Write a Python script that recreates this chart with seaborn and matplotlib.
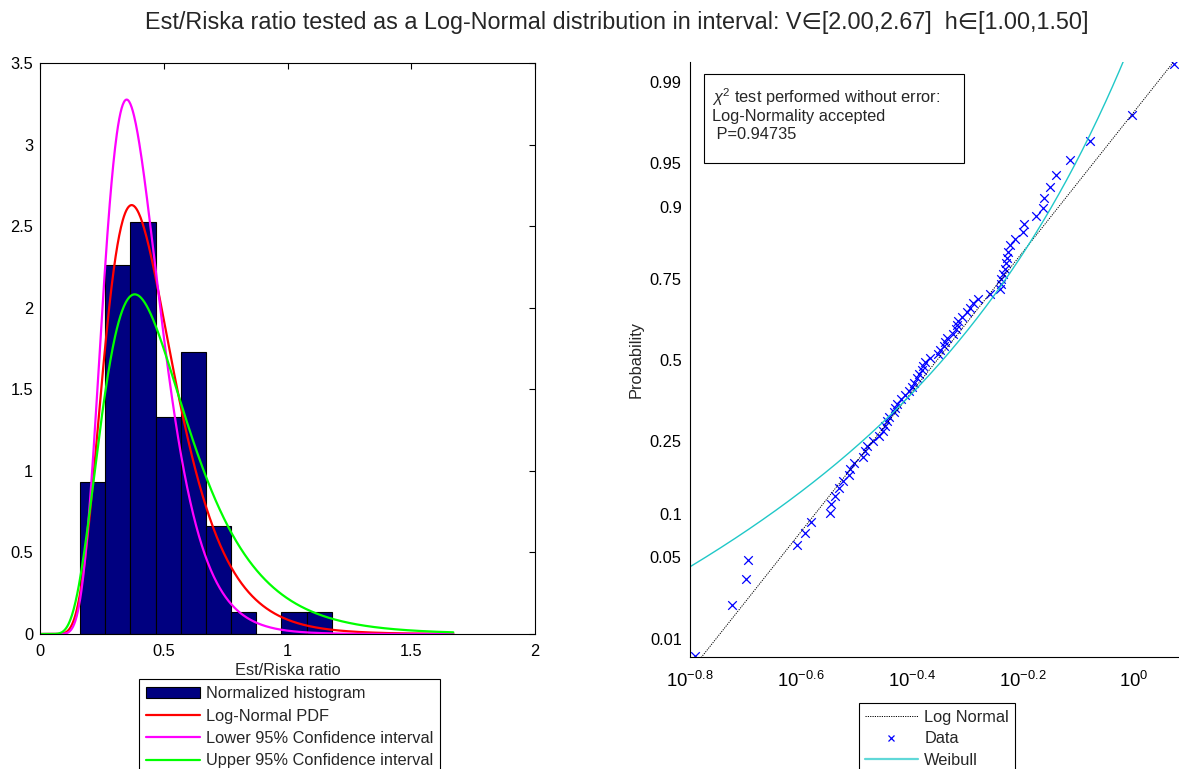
import numpy as np
import matplotlib
matplotlib.use("Agg")
import matplotlib.pyplot as plt
import seaborn as sns
from matplotlib.patches import Patch, Rectangle
from matplotlib.lines import Line2D
from matplotlib.ticker import FixedLocator, FixedFormatter, NullLocator
from statistics import NormalDist

# ---------------- data ----------------
ratio = [0.1620, 0.1887, 0.2000, 0.2016, 0.2471, 0.2554, 0.2618, 0.2834, 0.2845, 0.2893,
         0.2941, 0.2990, 0.3066, 0.3078, 0.3130, 0.3249, 0.3276, 0.3303, 0.3386, 0.3471,
         0.3529, 0.3559, 0.3589, 0.3620, 0.3690, 0.3705, 0.3741, 0.3804, 0.3868, 0.3932,
         0.3981, 0.4014, 0.4064, 0.4098, 0.4150, 0.4168, 0.4202, 0.4290, 0.4435, 0.4473,
         0.4547, 0.4566, 0.4604, 0.4710, 0.4779, 0.4799, 0.4819, 0.4899, 0.5002, 0.5064,
         0.5128, 0.5235, 0.5502, 0.5736, 0.5745, 0.5760, 0.5808, 0.5857, 0.5881, 0.5906,
         0.5930, 0.5980, 0.6105, 0.6300, 0.6320, 0.6650, 0.6855, 0.6883, 0.7059, 0.7238,
         0.7668, 0.8330, 0.9917, 1.1790]
n_bins = 10

# fitted log-normal parameters (mu, sigma of ln x)
fit_mu, fit_sigma = -0.848, 0.381
lower_mu, lower_sigma = -0.941, 0.3295
upper_mu, upper_sigma = -0.756, 0.452
pdf_x_max = 1.67

# fitted Weibull parameters
weib_scale, weib_shape = 0.5187, 2.653
p_value = 0.94735

left_legend_labels = ["Normalized histogram", "Log-Normal PDF",
                      "Lower 95% Confidence interval", "Upper 95% Confidence interval"]
right_legend_labels = ["Log Normal", "Data", "Weibull"]
prob_ticks = [0.01, 0.05, 0.1, 0.25, 0.5, 0.75, 0.9, 0.95, 0.99]
prob_tick_labels = ["0.01", "0.05", "0.1", "0.25", "0.5", "0.75", "0.9", "0.95", "0.99"]
log_ticks = [-0.8, -0.6, -0.4, -0.2, 0.0]

title = "Est/Riska ratio tested as a Log-Normal distribution in interval: V\u2208[2.00,2.67]  h\u2208[1.00,1.50]"

# ---------------- style ----------------
sns.set_theme(style="white")
plt.rcParams["font.family"] = ["Liberation Sans", "DejaVu Sans"]
plt.rcParams["mathtext.fontset"] = "custom"
plt.rcParams["mathtext.rm"] = "Liberation Sans"
plt.rcParams["mathtext.it"] = "Liberation Sans:italic"
plt.rcParams["mathtext.bf"] = "Liberation Sans:bold"
FS = 11.8

W, H = 1179, 769
fig = plt.figure(figsize=(W / 100, H / 100), dpi=100)
fig.patch.set_facecolor("white")


def frac_box(x0, x1, ytop, ybot):
    return [x0 / W, (H - ybot) / H, (x1 - x0) / W, (ybot - ytop) / H]


ax1 = fig.add_axes(frac_box(40, 535, 63, 634))
ax2 = fig.add_axes(frac_box(690, 1178, 62, 657))

data = np.asarray(ratio, float)


def lognorm_pdf(x, mu, s):
    out = np.zeros_like(x)
    m = x > 0
    out[m] = np.exp(-(np.log(x[m]) - mu) ** 2 / (2 * s * s)) / (x[m] * s * np.sqrt(2 * np.pi))
    return out


# ---------------- left: histogram + pdfs ----------------
sns.histplot(x=data, bins=n_bins, binrange=(data.min(), data.max()), stat="density",
             color="#000080", edgecolor="black", linewidth=0.8, alpha=1.0, ax=ax1)

xg = np.linspace(0, pdf_x_max, 700)
curves = [(fit_mu, fit_sigma, "#FF0000"), (lower_mu, lower_sigma, "#FF00FF"),
          (upper_mu, upper_sigma, "#00FF00")]
for mu, s, c in curves:
    sns.lineplot(x=xg, y=lognorm_pdf(xg, mu, s), color=c, linewidth=1.6,
                 estimator=None, sort=False, ax=ax1)

ax1.set_xlim(0, 2)
ax1.set_ylim(0, 3.5)
ax1.xaxis.set_major_locator(FixedLocator([0, 0.5, 1, 1.5, 2]))
ax1.xaxis.set_major_formatter(FixedFormatter(["0", "0.5", "1", "1.5", "2"]))
ax1.yaxis.set_major_locator(FixedLocator([0, 0.5, 1, 1.5, 2, 2.5, 3, 3.5]))
ax1.yaxis.set_major_formatter(FixedFormatter(["0", "0.5", "1", "1.5", "2", "2.5", "3", "3.5"]))
ax1.tick_params(direction="in", length=4, width=0.8, top=True, right=True,
                labelsize=FS, colors="black")
ax1.tick_params(axis="x", pad=7)
ax1.tick_params(axis="y", pad=5)
ax1.set_xlabel("Est/Riska ratio", fontsize=FS, labelpad=3)
ax1.set_ylabel("")
for sp in ax1.spines.values():
    sp.set_visible(True)
    sp.set_color("black")
    sp.set_linewidth(0.8)

h1 = [Patch(facecolor="#000080", edgecolor="black", linewidth=0.8),
      Line2D([], [], color="#FF0000", lw=1.6),
      Line2D([], [], color="#FF00FF", lw=1.6),
      Line2D([], [], color="#00FF00", lw=1.6)]
leg1 = fig.legend(h1, left_legend_labels, loc="upper center",
                  bbox_to_anchor=(289.5 / W, (H - 679) / H), fontsize=FS,
                  frameon=True, fancybox=False, edgecolor="black", framealpha=1,
                  borderpad=0.45, labelspacing=0.45, handlelength=3.3,
                  handletextpad=0.35, borderaxespad=0)
leg1.get_frame().set_linewidth(0.8)

# ---------------- right: log-normal probability plot ----------------
nd = NormalDist()
_ppf_v = np.vectorize(nd.inv_cdf, otypes=[float])
_cdf_v = np.vectorize(nd.cdf, otypes=[float])


def fwd(p):
    p = np.clip(np.asarray(p, float), 1e-12, 1 - 1e-12)
    return _ppf_v(p)


def inv(z):
    return _cdf_v(np.asarray(z, float))


ax2.set_xscale("log")
ax2.set_yscale("function", functions=(fwd, inv))

xs = np.sort(data)
n = len(xs)
pp = (np.arange(1, n + 1) - 0.5) / n

# reference line through the data quartiles (in log space)
lx = np.log10(xs)
q1, q3 = np.quantile(lx, [0.25, 0.75], method="hazen")
zq = nd.inv_cdf(0.75)
line_sigma = (q3 - q1) / (2 * zq)
line_mid = (q1 + q3) / 2
xl = np.logspace(lx.min(), lx.max(), 200)
pl = inv((np.log10(xl) - line_mid) / line_sigma)

xlim = (10 ** -0.8, 10 ** 0.079)
xw = np.logspace(np.log10(xlim[0]), np.log10(xlim[1]), 500)
pw = 1 - np.exp(-(xw / weib_scale) ** weib_shape)

sns.lineplot(x=xl, y=pl, color="black", linewidth=0.7, linestyle=(0, (1.2, 1.2)),
             estimator=None, sort=False, ax=ax2)
sns.scatterplot(x=xs, y=pp, marker="x", color="#0000FF", s=38, linewidth=0.9, ax=ax2)
sns.lineplot(x=xw, y=pw, color="#20C8C8", linewidth=1.0, estimator=None, sort=False, ax=ax2)

ax2.set_xlim(*xlim)
ax2.set_ylim(nd.cdf(-2.48), nd.cdf(2.49))
ax2.xaxis.set_major_locator(FixedLocator([10 ** v for v in log_ticks]))
ax2.xaxis.set_major_formatter(FixedFormatter([r"$10^{%g}$" % v for v in log_ticks]))
ax2.xaxis.set_minor_locator(NullLocator())
ax2.yaxis.set_major_locator(FixedLocator(prob_ticks))
ax2.yaxis.set_major_formatter(FixedFormatter(prob_tick_labels))
ax2.yaxis.set_minor_locator(NullLocator())
ax2.tick_params(axis="x", direction="in", length=4, width=0.8, labelsize=FS + 1.5, pad=10,
                colors="black")
ax2.tick_params(axis="y", direction="out", length=3, width=0.8, labelsize=FS, pad=3,
                colors="black")
ax2.set_xlabel("")
ax2.set_ylabel("Probability", fontsize=FS, labelpad=4)
ax2.spines["top"].set_visible(False)
ax2.spines["right"].set_visible(False)
for k in ("left", "bottom"):
    ax2.spines[k].set_color("black")
    ax2.spines[k].set_linewidth(0.8)

# text box
bx0, bx1 = (704 - 690) / 488, (964 - 690) / 488
by0, by1 = (657 - 162.7) / 595, (657 - 74.3) / 595
ax2.add_patch(Rectangle((bx0, by0), bx1 - bx0, by1 - by0, transform=ax2.transAxes,
                        facecolor="white", edgecolor="black", linewidth=0.8, zorder=5))
tx = (711.7 - 690) / 488
lines = [r"$\chi^2$ test performed without error:", "Log-Normality accepted",
         " P=%.5f" % p_value]
for txt, yb in zip(lines, [103, 121, 139]):
    ax2.text(tx, (657 - yb) / 595, txt, transform=ax2.transAxes, fontsize=FS,
             va="baseline", ha="left", zorder=6)

h2 = [Line2D([], [], color="black", lw=0.7, linestyle=(0, (1.2, 1.2))),
      Line2D([], [], color="#0000FF", lw=0, marker="x", markersize=5, markeredgewidth=0.9),
      Line2D([], [], color="#60D8D8", lw=1.6)]
leg2 = fig.legend(h2, right_legend_labels, loc="upper center",
                  bbox_to_anchor=(937 / W, (H - 703.3) / H), fontsize=FS,
                  frameon=True, fancybox=False, edgecolor="black", framealpha=1,
                  borderpad=0.4, labelspacing=0.4, handlelength=3.2,
                  handletextpad=0.4, borderaxespad=0)
leg2.get_frame().set_linewidth(0.8)

fig.text(617 / W, 1 - 22 / H, title, ha="center", va="center", fontsize=16.8)

fig.savefig("out.png", dpi=100, facecolor="white")
